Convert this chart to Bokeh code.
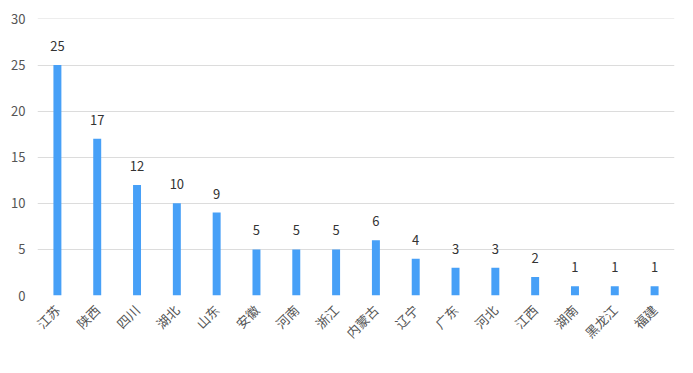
import math
from bokeh.plotting import figure
from bokeh.models import ColumnDataSource, Range1d, FactorRange, FixedTicker, LabelSet
from bokeh.core.properties import value
from bokeh.embed import file_html
from bokeh.resources import INLINE

provinces = ["江苏", "陕西", "四川", "湖北", "山东", "安徽", "河南", "浙江", "内蒙古",
             "辽宁", "广东", "河北", "江西", "湖南", "黑龙江", "福建"]
counts = [25, 17, 12, 10, 9, 5, 5, 5, 6, 4, 3, 3, 2, 1, 1, 1]
y_ticks = [0, 5, 10, 15, 20, 25, 30]

FONT = "Noto Sans CJK SC"

src = ColumnDataSource(dict(x=provinces, y=counts, lab=[str(c) for c in counts]))

p = figure(x_range=FactorRange(*provinces, range_padding=0), y_range=Range1d(0, 30.05),
           width=685, height=365, output_backend="svg", toolbar_location=None,
           min_border_left=37, min_border_right=11, min_border_top=18, min_border_bottom=70)
p.outline_line_color = None
p.background_fill_color = "white"
p.border_fill_color = "white"

p.vbar(x="x", top="y", width=0.2, source=src, color="#47a0f7", line_color=None)

labels = LabelSet(x="x", y="y", text="lab", source=src, text_align="center",
                  text_baseline="bottom", y_offset=14, text_font=value(FONT),
                  text_font_size="13px", text_color="#333333")
p.add_layout(labels)

p.yaxis.ticker = FixedTicker(ticks=y_ticks)
p.yaxis.axis_line_color = None
p.yaxis.major_tick_line_color = None
p.yaxis.minor_tick_line_color = None
p.yaxis.major_label_text_font = FONT
p.yaxis.major_label_text_font_size = "13px"
p.yaxis.major_label_text_color = "#555555"
p.yaxis.major_label_standoff = 6

p.xaxis.axis_line_color = None
p.xaxis.major_tick_line_color = None
p.xaxis.minor_tick_line_color = None
p.xaxis.major_label_orientation = math.pi / 4
p.xaxis.major_label_text_font = FONT
p.xaxis.major_label_text_font_size = "13px"
p.xaxis.major_label_text_color = "#555555"
p.xaxis.major_label_standoff = 6

p.xgrid.grid_line_color = None
p.ygrid.ticker = FixedTicker(ticks=y_ticks)
p.ygrid.grid_line_color = "#dcdcdc"

open("out.html", "w").write(file_html(p, INLINE))
